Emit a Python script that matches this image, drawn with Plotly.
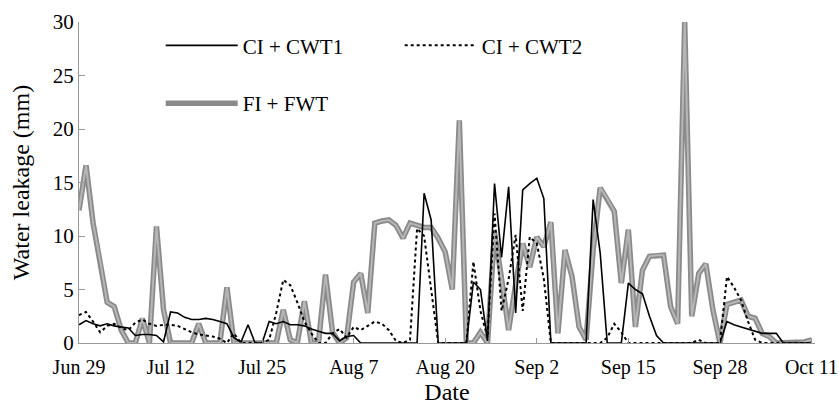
import pandas as pd
import plotly.graph_objects as go

start_date = "2010-06-29"
n_days = 105

ci_cwt1 = [1.7, 2.1, 1.8, 1.6, 1.8, 1.6, 1.5, 1.4, 0.7, 0.8,
           0.8, 0.7, 0.1, 2.9, 2.8, 2.4, 2.2, 2.2, 2.3, 2.2,
           2.0, 1.8, 0.5, 0.1, 1.7, 0.0, 0.0, 2.0, 1.8, 2.0,
           1.7, 1.7, 1.6, 1.3, 1.1, 0.9, 0.9, 0.2, 0.6, 0.7,
           0.0, 0.0, 0.0, 0.0, 0.0, 0.0, 0.0, 0.0, 0.0, 14.0,
           11.5, 0.0, 0.0, 0.0, 0.0, 0.0, 5.7, 5.0, 0.2, 14.9,
           8.0, 14.6, 2.8, 14.3, 14.9, 15.4, 13.5, 0.0, 0.0, 0.0,
           0.0, 0.0, 0.0, 13.4, 8.4, 0.0, 0.0, 0.0, 5.6, 5.0,
           4.6, 2.5, 0.7, 0.0, 0.0, 0.0, 0.0, 0.0, 0.0, 0.0,
           0.0, 0.0, 2.0, 1.7, 1.5, 1.3, 1.1, 0.9, 0.9, 0.9,
           0.0, 0.0, 0.0, 0.0, 0.0]

ci_cwt2 = [2.6, 2.9, 2.0, 1.0, 1.6, 1.8, 1.4, 1.2, 1.9, 2.2,
           1.8, 1.6, 1.7, 1.7, 1.6, 1.3, 1.0, 0.8, 0.7, 0.6,
           0.4, 0.0, 0.9, 0.0, 0.0, 0.0, 0.0, 0.3, 2.8, 5.9,
           5.4, 3.8, 2.0, 0.9, 0.0, 0.0, 0.9, 1.3, 0.5, 1.5,
           1.2, 1.6, 2.0, 1.8, 1.2, 0.2, 0.0, 0.3, 10.7, 10.0,
           5.0, 0.0, 0.0, 0.0, 0.0, 0.0, 7.6, 3.0, 0.5, 12.1,
           3.0, 6.0, 10.1, 3.0, 9.9, 9.3, 6.0, 0.0, 0.0, 0.0,
           0.0, 0.0, 0.0, 0.0, 0.0, 0.5, 1.8, 1.0, 0.0, 0.0,
           0.0, 0.0, 0.0, 0.0, 0.0, 0.0, 0.0, 0.0, 0.3, 0.0,
           0.0, 0.0, 6.2, 5.2, 4.0, 2.0, 0.3, 0.0, 0.0, 0.0,
           0.0, 0.0, 0.0, 0.0, 0.0]

fi_fwt = [12.4, 16.6, 11.2, 7.7, 3.8, 3.4, 1.2, 0.0, 0.0, 2.3,
          0.0, 10.9, 3.1, 0.0, 0.0, 0.0, 0.0, 1.8, 0.0, 0.0,
          0.0, 5.2, 0.0, 0.0, 0.0, 0.0, 0.0, 0.0, 0.0, 3.1,
          0.3, 0.0, 3.9, 0.0, 0.0, 6.4, 1.0, 0.0, 0.5, 5.7,
          6.5, 2.8, 11.2, 11.4, 11.5, 11.0, 9.8, 11.2, 11.0, 10.8,
          10.8, 9.8, 8.5, 5.0, 20.8, 0.0, 0.0, 1.0, 0.0, 10.3,
          6.0, 1.2, 5.5, 9.3, 7.1, 9.9, 9.0, 11.3, 0.9, 8.7,
          6.2, 1.5, 0.3, 8.7, 14.5, 13.5, 12.3, 5.6, 10.6, 1.5,
          6.8, 8.1, 8.2, 8.2, 3.4, 1.8, 30.0, 2.5, 6.5, 7.4,
          3.1, 0.0, 3.6, 3.8, 4.0, 2.5, 2.3, 0.9, 0.6, 0.0,
          0.0, 0.0, 0.0, 0.1, 0.3]

tick_dates = ["2010-06-29", "2010-07-12", "2010-07-25", "2010-08-07", "2010-08-20",
              "2010-09-02", "2010-09-15", "2010-09-28", "2010-10-11"]
tick_labels = ["Jun 29", "Jul 12", "Jul 25", "Aug 7", "Aug 20",
               "Sep 2", "Sep 15", "Sep 28", "Oct 11"]
y_ticks = [0, 5, 10, 15, 20, 25, 30]

dates = pd.date_range(start_date, periods=n_days, freq="D")

FONT = "Liberation Serif"
fig = go.Figure()

# FI + FWT : thick textured grey line (darker edge + lighter core)
fig.add_trace(go.Scatter(x=dates, y=fi_fwt, mode="lines", name="FI + FWT",
                         line=dict(color="#8a8a8a", width=5.5), legendgroup="f",
                         legend="legend2"))
fig.add_trace(go.Scatter(x=dates, y=fi_fwt, mode="lines", name="FI + FWT",
                         line=dict(color="#b6b6b6", width=2),
                         legendgroup="f", showlegend=False, legend="legend2"))
fig.add_trace(go.Scatter(x=dates, y=ci_cwt2, mode="lines", name="CI + CWT2",
                         line=dict(color="black", width=2, dash="3px,3px")))
fig.add_trace(go.Scatter(x=dates, y=ci_cwt1, mode="lines", name="CI + CWT1",
                         line=dict(color="black", width=1.6)))

fig.update_layout(
    width=839, height=408,
    margin=dict(l=79, r=24, t=22, b=65),
    paper_bgcolor="white", plot_bgcolor="white",
    font=dict(family=FONT, size=21, color="black"),
    legend=dict(orientation="h", x=0.111, y=0.99, xanchor="left", yanchor="top",
                entrywidth=152, itemwidth=72, traceorder="reversed",
                bgcolor="rgba(0,0,0,0)", font=dict(family=FONT, size=21)),
    legend2=dict(orientation="h", x=0.111, y=0.81, xanchor="left", yanchor="top",
                 itemwidth=72, bgcolor="rgba(0,0,0,0)", font=dict(family=FONT, size=21)),
    xaxis=dict(type="date", automargin=False, ticklabeloverflow="allow",
               range=[pd.Timestamp(start_date), pd.Timestamp(start_date) + pd.Timedelta(days=104.5)],
               tickvals=pd.to_datetime(tick_dates), ticktext=tick_labels,
               ticks="inside", ticklen=5, tickcolor="#999999",
               showline=True, linecolor="#999999", linewidth=1,
               showgrid=False, zeroline=False, ticklabelstandoff=6,
               title=dict(text="Date", standoff=4, font=dict(size=24)),
               tickfont=dict(size=20)),
    yaxis=dict(range=[0, 30], tickvals=y_ticks, automargin=False,
               ticks="inside", ticklen=6, tickcolor="#999999",
               showline=True, linecolor="#999999", linewidth=1,
               showgrid=False, zeroline=False,
               title=dict(text="Water leakage (mm)", standoff=16, font=dict(size=24)),
               tickfont=dict(size=21)),
    showlegend=True,
)

fig.write_html("out.html")
